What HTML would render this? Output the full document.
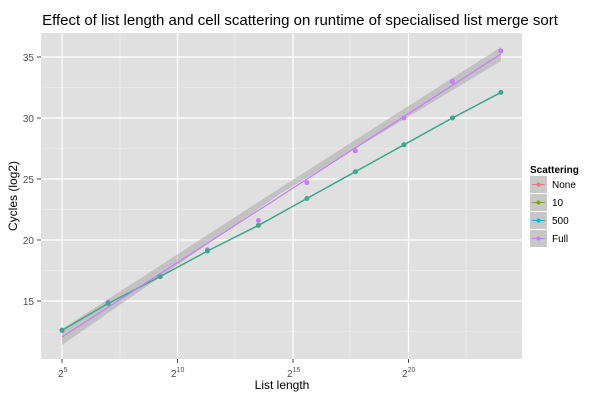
<!DOCTYPE html>
<html><head><meta charset="utf-8"><style>body{margin:0;background:#fff}svg{display:block;font-family:"Liberation Sans",sans-serif}</style></head><body>
<svg width="600" height="400" viewBox="0 0 600 400" xmlns="http://www.w3.org/2000/svg">
<rect width="600" height="400" fill="#fff"/>
<text x="300" y="25" text-anchor="middle" font-size="15" fill="#000">Effect of list length and cell scattering on runtime of specialised list merge sort</text>
<rect x="41" y="33" width="481" height="326" fill="#e0e0e0"/>
<g stroke="#f0f0f0" stroke-width="0.6">
<line x1="120" y1="33" x2="120" y2="359"/><line x1="235" y1="33" x2="235" y2="359"/><line x1="350" y1="33" x2="350" y2="359"/><line x1="466" y1="33" x2="466" y2="359"/>
<line x1="41" y1="331.5" x2="522" y2="331.5"/><line x1="41" y1="270.5" x2="522" y2="270.5"/><line x1="41" y1="209.5" x2="522" y2="209.5"/><line x1="41" y1="148.5" x2="522" y2="148.5"/><line x1="41" y1="87.5" x2="522" y2="87.5"/>
</g>
<g stroke="#fff" stroke-width="1.2">
<line x1="62" y1="33" x2="62" y2="359"/><line x1="177.5" y1="33" x2="177.5" y2="359"/><line x1="293" y1="33" x2="293" y2="359"/><line x1="408.5" y1="33" x2="408.5" y2="359"/>
<line x1="41" y1="301" x2="522" y2="301"/><line x1="41" y1="240" x2="522" y2="240"/><line x1="41" y1="179" x2="522" y2="179"/><line x1="41" y1="118" x2="522" y2="118"/><line x1="41" y1="57" x2="522" y2="57"/>
</g>
<polygon points="62,329 280,188 501,47 501,61 280,194 62,345" fill="#aaa" opacity="0.55"/>
<polyline fill="none" stroke="#3aa98a" stroke-width="1.5" points="62,330.3 108.2,303.4 160.2,276.6 207.5,251 258.4,225.4 306.9,198.5 355.4,171.7 403.9,144.8 452.4,118 500.9,92.4"/>
<line x1="62" y1="337" x2="501" y2="54" stroke="#C77CFF" stroke-width="1.2"/>
<g fill="#C77CFF">
<circle cx="62" cy="330.3" r="2.5"/><circle cx="108.2" cy="302.2" r="2.5"/><circle cx="160.2" cy="276.6" r="2.5"/><circle cx="207.5" cy="249.8" r="2.5"/><circle cx="258.4" cy="220.5" r="2.5"/><circle cx="306.9" cy="182.7" r="2.5"/><circle cx="355.4" cy="150.9" r="2.5"/><circle cx="403.9" cy="118" r="2.5"/><circle cx="452.4" cy="81.4" r="2.5"/><circle cx="500.9" cy="51" r="2.5"/>
</g>
<g fill="#3aa98a">
<circle cx="62" cy="330.3" r="2.5"/><circle cx="108.2" cy="303.4" r="2.5"/><circle cx="160.2" cy="276.6" r="2.5"/><circle cx="207.5" cy="251" r="2.5"/><circle cx="258.4" cy="225.4" r="2.5"/><circle cx="306.9" cy="198.5" r="2.5"/><circle cx="355.4" cy="171.7" r="2.5"/><circle cx="403.9" cy="144.8" r="2.5"/><circle cx="452.4" cy="118" r="2.5"/><circle cx="500.9" cy="92.4" r="2.5"/>
</g>
<g stroke="#4d4d4d" stroke-width="1">
<line x1="37" y1="301" x2="41" y2="301"/><line x1="37" y1="240" x2="41" y2="240"/><line x1="37" y1="179" x2="41" y2="179"/><line x1="37" y1="118" x2="41" y2="118"/><line x1="37" y1="57" x2="41" y2="57"/>
<line x1="62" y1="359" x2="62" y2="363"/><line x1="177.5" y1="359" x2="177.5" y2="363"/><line x1="293" y1="359" x2="293" y2="363"/><line x1="408.5" y1="359" x2="408.5" y2="363"/>
</g>
<g font-size="10" fill="#4d4d4d" text-anchor="end">
<text x="34" y="305">15</text><text x="34" y="244">20</text><text x="34" y="183">25</text><text x="34" y="122">30</text><text x="34" y="61">35</text>
</g>
<g font-size="10" fill="#4d4d4d">
<text x="58" y="377">2<tspan font-size="7" dy="-5">5</tspan></text>
<text x="171" y="377">2<tspan font-size="7" dy="-5">10</tspan></text>
<text x="287" y="377">2<tspan font-size="7" dy="-5">15</tspan></text>
<text x="402" y="377">2<tspan font-size="7" dy="-5">20</tspan></text>
</g>
<text x="282" y="389" text-anchor="middle" font-size="12">List length</text>
<text transform="translate(17,196) rotate(-90)" text-anchor="middle" font-size="12">Cycles (log2)</text>
<text x="530" y="173" font-size="10" font-weight="bold">Scattering</text>
<g>
<rect x="530" y="176" width="17" height="17" fill="#c8c8c8"/><rect x="530" y="194" width="17" height="17" fill="#c8c8c8"/><rect x="530" y="212" width="17" height="17" fill="#c8c8c8"/><rect x="530" y="230" width="17" height="17" fill="#c8c8c8"/>
<line x1="532" y1="184.5" x2="545" y2="184.5" stroke="#F8766D"/><circle cx="538.5" cy="184.5" r="2" fill="#F8766D"/>
<line x1="532" y1="202.5" x2="545" y2="202.5" stroke="#7CAE00"/><circle cx="538.5" cy="202.5" r="2" fill="#7CAE00"/>
<line x1="532" y1="220.5" x2="545" y2="220.5" stroke="#00BFC4"/><circle cx="538.5" cy="220.5" r="2" fill="#00BFC4"/>
<line x1="532" y1="238.5" x2="545" y2="238.5" stroke="#C77CFF"/><circle cx="538.5" cy="238.5" r="2" fill="#C77CFF"/>
</g>
<g font-size="10" fill="#000">
<text x="552" y="188">None</text><text x="552" y="206">10</text><text x="552" y="224">500</text><text x="552" y="242">Full</text>
</g>
</svg>
</body></html>
